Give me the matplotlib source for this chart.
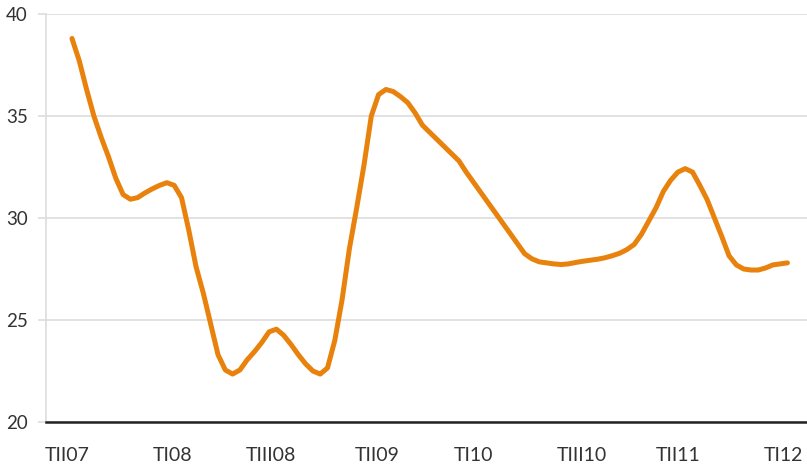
import matplotlib.pyplot as plt

# serie (dos observaciones por intervalo de la escala)
valores = [38.8, 37.7, 36.3, 35.0, 33.95, 33.0, 31.95, 31.15, 30.92, 31.0,
           31.23, 31.43, 31.6, 31.73, 31.6, 31.0, 29.4, 27.6, 26.3, 24.8,
           23.3, 22.55, 22.35, 22.55, 23.05, 23.45, 23.9, 24.42, 24.55, 24.25,
           23.8, 23.3, 22.85, 22.5, 22.35, 22.65, 24.0, 26.0, 28.5, 30.5,
           32.6, 35.0, 36.05, 36.3, 36.2, 35.95, 35.65, 35.15, 34.55, 34.2,
           33.85, 33.5, 33.15, 32.8, 32.25, 31.75, 31.25, 30.75, 30.25, 29.75,
           29.25, 28.75, 28.25, 28.0, 27.85, 27.8, 27.75, 27.72, 27.75, 27.82,
           27.88, 27.93, 27.98, 28.05, 28.15, 28.27, 28.45, 28.7, 29.2, 29.85,
           30.5, 31.3, 31.85, 32.25, 32.42, 32.25, 31.6, 30.9, 30.0, 29.1,
           28.15, 27.7, 27.5, 27.45, 27.45, 27.55, 27.7, 27.75, 27.8]
etiquetas = ["TII07", "TI08", "TIII08", "TII09", "TI10", "TIII10", "TII11", "TI12"]
pos_etiquetas = [-0.3, 6.9, 13.6, 20.9, 27.5, 34.9, 41.5, 48.7]
yticks = [20, 25, 30, 35, 40]

plt.rcParams['font.family'] = ['Lato', 'DejaVu Sans']

fig = plt.figure(figsize=(8.07, 4.71), dpi=100)
ax = fig.add_axes([46 / 807, 49 / 471, 761 / 807, 408 / 471])

x = [i / 2 for i in range(len(valores))]
ax.plot(x, valores, color='#E8820C', lw=3.6, solid_joinstyle='round',
        solid_capstyle='round', zorder=3)

ax.set_xlim(-1.78, 50.34)
ax.set_ylim(20, 40)

ax.set_yticks(yticks)
ax.set_yticklabels([str(v) for v in yticks], fontsize=13.5, color='#333333')
ax.grid(axis='y', color='#dddddd', lw=1.2)
ax.tick_params(axis='y', length=6, width=1.2, color='#dddddd', pad=7)

ax.set_xticks(pos_etiquetas)
ax.set_xticklabels(etiquetas, fontsize=14, color='#333333')
ax.tick_params(axis='x', length=0, pad=18)

for s in ['top', 'right']:
    ax.spines[s].set_visible(False)
ax.spines['left'].set_color('#dddddd')
ax.spines['left'].set_linewidth(1.2)
ax.spines['bottom'].set_color('#222222')
ax.spines['bottom'].set_linewidth(1.8)
ax.spines['bottom'].set_zorder(4)

fig.savefig('out.png', dpi=100)
